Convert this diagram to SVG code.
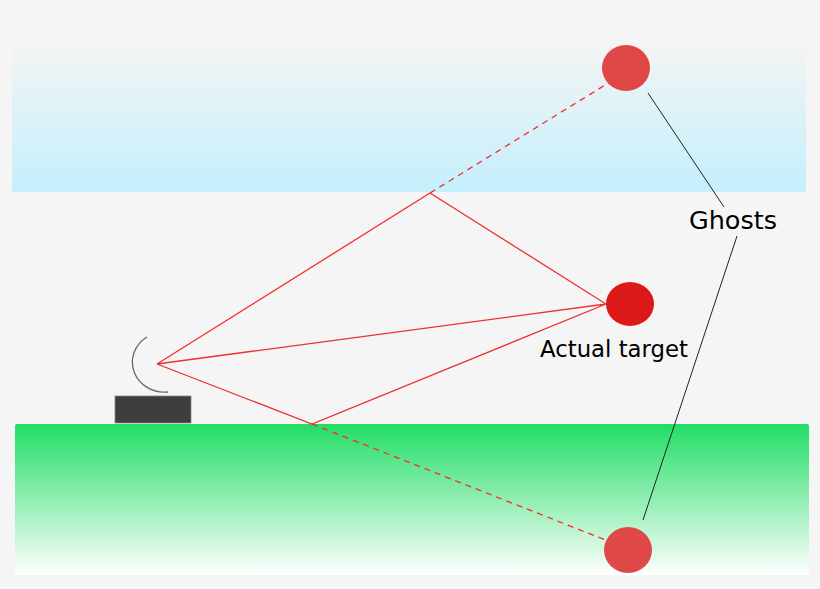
<svg xmlns="http://www.w3.org/2000/svg" width="820" height="589" viewBox="0 0 820 589">
<defs>
<linearGradient id="sky" x1="0" y1="0" x2="0" y2="1"><stop offset="0" stop-color="#f4f4f4"/><stop offset="1" stop-color="#c4effc"/></linearGradient>
<linearGradient id="ground" x1="0" y1="0" x2="0" y2="1"><stop offset="0" stop-color="#22dd66"/><stop offset="1" stop-color="#ffffff"/></linearGradient>
<style>
.ray{stroke:#ee3030;stroke-width:1.3;fill:none}
.dash{stroke-dasharray:6,5}
.lead{stroke:#222;stroke-width:1;fill:none}
.lbl{font-family:"DejaVu Sans",sans-serif;fill:#000}
.ghost{fill:#e04848}
</style>
</defs>
<rect width="820" height="589" fill="#f5f5f5"/>
<rect x="12" y="44" width="794" height="148" rx="2" fill="url(#sky)"/>
<rect x="15" y="424" width="794" height="151" rx="2" fill="url(#ground)"/>
<g id="connectors">
<polyline class="ray" points="157,364 430,193 606,304 157,364 312,424 606,304"/>
<line class="ray dash" x1="430" y1="193" x2="610" y2="82"/>
<line class="ray dash" x1="312" y1="424" x2="608" y2="541"/>
<line class="lead" x1="648" y1="93" x2="724" y2="207"/>
<line class="lead" x1="737" y1="236" x2="643" y2="520"/>
</g>
<g id="radar">
<path d="M147,337 A32,30 0 0 0 168,392" stroke="#666" stroke-width="1.3" fill="none"/>
<rect x="115" y="396" width="76" height="27" fill="#3d3d3d" stroke="#888" stroke-width="0.8"/>
</g>
<g id="ghost-top"><ellipse class="ghost" cx="626" cy="68" rx="24" ry="23"/></g>
<g id="target"><ellipse cx="630" cy="304" rx="24" ry="22" fill="#dd1818"/>
<text class="lbl" x="614" y="357" font-size="22.8" text-anchor="middle">Actual target</text></g>
<g id="ghost-bottom"><ellipse class="ghost" cx="628" cy="550" rx="24" ry="23"/></g>
<g id="ghosts-label"><text class="lbl" x="733" y="229" font-size="25.5" text-anchor="middle">Ghosts</text></g>
</svg>
